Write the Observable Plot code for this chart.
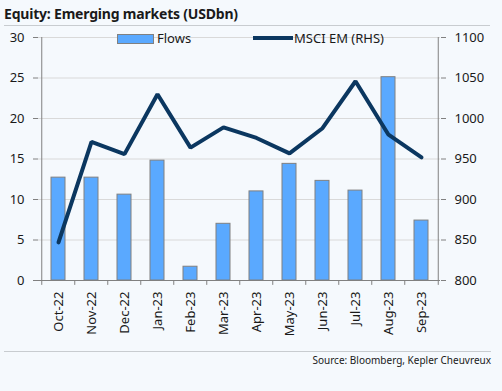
<!DOCTYPE html>
<html><head><meta charset="utf-8">
<script src="https://cdn.jsdelivr.net/npm/d3@7"></script>
<script src="https://cdn.jsdelivr.net/npm/@observablehq/plot@0.6"></script>
<style>
html,body{margin:0;padding:0;background:#f5f9fd;}
#wrap{position:relative;width:502px;height:391px;background:#f5f9fd;font-family:"Noto Sans",sans-serif;}
#title{position:absolute;left:4px;top:4px;width:486px;height:21px;border-bottom:1px solid #c8ccd0;font-weight:bold;font-size:14px;color:#1a1a1a;line-height:20px;letter-spacing:-0.2px;}
#chart{position:absolute;left:0;top:28px;}
#sep{position:absolute;left:4px;top:351px;width:487px;border-top:1px solid #c8ccd0;}
#source{position:absolute;right:11px;top:353px;font-size:10px;color:#1a1a1a;}
.leg{position:absolute;font-size:13px;color:#1a1a1a;}
</style></head>
<body><div id="wrap">
<div id="title">Equity: Emerging markets (USDbn)</div>
<div id="chart"></div>
<div id="sep"></div>
<div id="source">Source: Bloomberg, Kepler Cheuvreux</div>
<div style="position:absolute;left:117px;top:34px;width:35px;height:8px;background:#5aa9ff;border:1px solid #808080;"></div>
<div class="leg" style="left:157px;top:29px;">Flows</div>
<div style="position:absolute;left:253px;top:36px;width:40px;height:4px;background:#0b3760;"></div>
<div class="leg" style="left:294px;top:29px;">MSCI EM (RHS)</div>
</div>
<script>
const months = ["Oct-22","Nov-22","Dec-22","Jan-23","Feb-23","Mar-23","Apr-23","May-23","Jun-23","Jul-23","Aug-23","Sep-23"];
const flows = [12.7,12.7,10.6,14.8,1.7,7.0,11.0,14.4,12.3,11.1,25.1,7.4];
const msci = [847,971,956,1030,964,989,976,957,988,1046,980,952];
const leftTicks = [0,5,10,15,20,25,30];
const rightTicks = [800,850,900,950,1000,1050,1100];

const toLeft = v => (v - 800) / 10;
const data = months.map((m,i)=>({m, flow:flows[i], msci:msci[i]}));
const W = 502, H = 324, mL = 38, mR = 62, mT = 9, mB = 72;
const step = (W - mL - mR) / months.length;

const chart = Plot.plot({
  width: W, height: H,
  marginLeft: mL, marginRight: mR, marginTop: mT, marginBottom: mB,
  style: {background: "transparent", fontFamily: "Noto Sans, sans-serif", fontSize: "13px", color: "#1a1a1a", overflow: "visible"},
  x: {domain: months, paddingInner: 0.58, paddingOuter: 0.29, label: null},
  y: {domain: [0,30], label: null},
  marks: [
    Plot.ruleY(leftTicks.slice(1), {stroke: "#d9d9d9", strokeWidth: 1}),
    Plot.barY(data, {x: "m", y: "flow", fill: "#5aa9ff", stroke: "#808080", strokeWidth: 1}),
    Plot.lineY(data, {x: "m", y: d => toLeft(d.msci), stroke: "#0b3760", strokeWidth: 4, strokeLinejoin: "miter"}),
    Plot.axisY({ticks: leftTicks, anchor: "left", tickSize: 5, tickPadding: 9, label: null, stroke:"#808080", fill:"#1a1a1a", fontSize: 13}),
    Plot.axisY({ticks: leftTicks, anchor: "right", tickSize: 5, tickPadding: 9, label: null, tickFormat: (d, i) => String(rightTicks[i]), stroke:"#808080", fill:"#1a1a1a", fontSize: 13}),
    Plot.axisX({anchor: "bottom", tickSize: 0, tickRotate: -90, tickPadding: 11, label: null, fill:"#1a1a1a", fontSize: 13}),
    Plot.ruleX(months, {x: d=>d, y1: 0, y2: -0.6, dx: -step/2, stroke: "#808080"}),
    Plot.ruleX([months[months.length-1]], {x: d=>d, y1: 0, y2: -0.6, dx: step/2, stroke: "#808080"}),
    Plot.ruleY([0], {stroke: "#808080"}),
    Plot.ruleX([0], {x: () => months[0], y1: 0, y2: 30, dx: -step/2, stroke: "#808080"}),
    Plot.ruleX([0], {x: () => months[months.length-1], y1: 0, y2: 30, dx: step/2, stroke: "#808080"})
  ]
});
document.getElementById("chart").appendChild(chart);
</script>
</body></html>
